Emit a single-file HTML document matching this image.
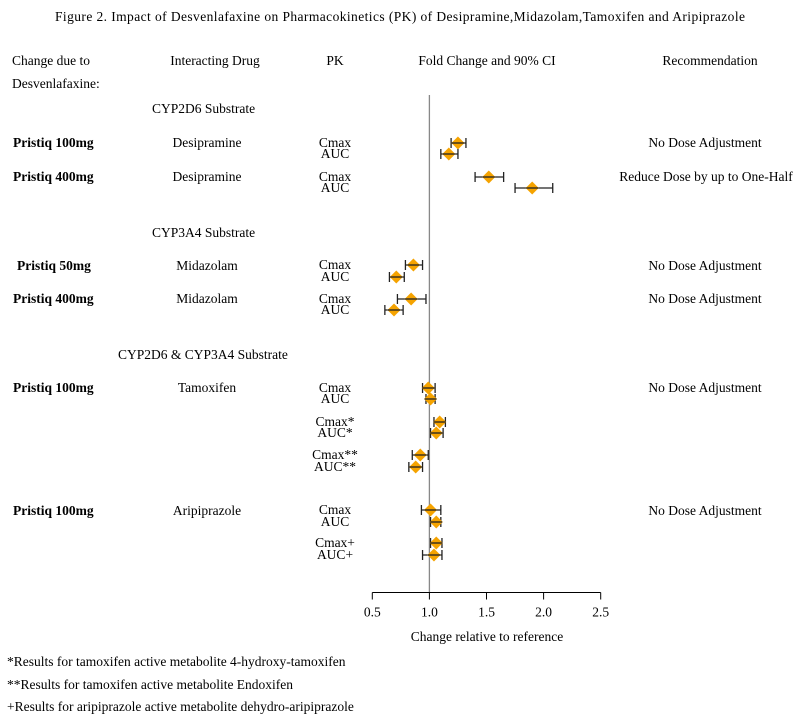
<!DOCTYPE html>
<html><head><meta charset="utf-8"><style>
body{margin:0;background:#fff;}
svg{display:block;font-family:"Liberation Serif",serif;}
text{font-size:13.5px;fill:#000;}
.b{font-weight:bold;}
</style></head><body>
<svg id="chart" width="801" height="716" viewBox="0 0 801 716" xmlns="http://www.w3.org/2000/svg">
<text x="400" y="21" text-anchor="middle" textLength="690" font-size="13">Figure 2. Impact of Desvenlafaxine on Pharmacokinetics (PK) of Desipramine,Midazolam,Tamoxifen and Aripiprazole</text>
<text x="12" y="65">Change due to</text>
<text x="12" y="88">Desvenlafaxine:</text>
<text x="215" y="65" text-anchor="middle">Interacting Drug</text>
<text x="335" y="65" text-anchor="middle">PK</text>
<text x="487" y="65" text-anchor="middle">Fold Change and 90% CI</text>
<text x="710" y="65" text-anchor="middle">Recommendation</text>

<text x="152" y="113">CYP2D6 Substrate</text>
<text x="152" y="237">CYP3A4 Substrate</text>
<text x="118" y="359">CYP2D6 &amp; CYP3A4 Substrate</text>

<text class="b" x="13" y="147">Pristiq 100mg</text>
<text class="b" x="13" y="181">Pristiq 400mg</text>
<text class="b" x="17" y="270">Pristiq 50mg</text>
<text class="b" x="13" y="303">Pristiq 400mg</text>
<text class="b" x="13" y="392">Pristiq 100mg</text>
<text class="b" x="13" y="515">Pristiq 100mg</text>

<text x="207" y="147" text-anchor="middle">Desipramine</text>
<text x="207" y="181" text-anchor="middle">Desipramine</text>
<text x="207" y="270" text-anchor="middle">Midazolam</text>
<text x="207" y="303" text-anchor="middle">Midazolam</text>
<text x="207" y="392" text-anchor="middle">Tamoxifen</text>
<text x="207" y="515" text-anchor="middle">Aripiprazole</text>

<text x="705" y="147" text-anchor="middle">No Dose Adjustment</text>
<text x="706" y="181" text-anchor="middle">Reduce Dose by up to One-Half</text>
<text x="705" y="270" text-anchor="middle">No Dose Adjustment</text>
<text x="705" y="303" text-anchor="middle">No Dose Adjustment</text>
<text x="705" y="392" text-anchor="middle">No Dose Adjustment</text>
<text x="705" y="515" text-anchor="middle">No Dose Adjustment</text>

<g id="plot"></g>

<text x="487" y="641" text-anchor="middle">Change relative to reference</text>
<text x="7" y="666">*Results for tamoxifen active metabolite 4-hydroxy-tamoxifen</text>
<text x="7" y="689">**Results for tamoxifen  active metabolite Endoxifen</text>
<text x="7" y="711">+Results for aripiprazole active metabolite dehydro-aripiprazole</text>
</svg>
<script>
const pkLabels = ["Cmax","AUC","Cmax","AUC","Cmax","AUC","Cmax","AUC","Cmax","AUC","Cmax*","AUC*","Cmax**","AUC**","Cmax","AUC","Cmax+","AUC+"];
const rowY = [143,154,177,188,265,277,299,310,388,399,422,433,455,467,510,522,543,555];
const estimates = [1.25,1.17,1.52,1.90,0.86,0.71,0.84,0.69,0.99,1.01,1.09,1.06,0.92,0.88,1.01,1.06,1.06,1.04];
const lower = [1.19,1.10,1.40,1.75,0.79,0.65,0.72,0.61,0.94,0.97,1.04,1.01,0.85,0.82,0.93,1.01,1.01,0.94];
const upper = [1.32,1.25,1.65,2.08,0.94,0.78,0.97,0.77,1.05,1.05,1.14,1.12,0.99,0.94,1.10,1.10,1.11,1.11];
const ticks = [0.5,1.0,1.5,2.0,2.5];
const tickLabels = ["0.5","1.0","1.5","2.0","2.5"];
const refValue = 1.0;

const NS = "http://www.w3.org/2000/svg";
const g = document.getElementById('plot');
const x = v => 372.3 + (v - 0.5) * 114.2;
const axisY = 592.5;
function mk(tag, attrs){ const e=document.createElementNS(NS,tag); for(const k in attrs) e.setAttribute(k,attrs[k]); g.appendChild(e); return e; }

const ref = mk('line',{x1:x(refValue),x2:x(refValue),y1:95,y2:axisY,stroke:'#888','stroke-width':1.3});



const ax = mk('line',{x1:x(ticks[0]),x2:x(ticks[ticks.length-1]),y1:axisY,y2:axisY,stroke:'#000','stroke-width':1});


ticks.forEach((t,i)=>{
  const tk = mk('line',{x1:x(t),x2:x(t),y1:axisY,y2:axisY+7,stroke:'#000','stroke-width':1});
  
  
  const tl = mk('text',{x:x(t),y:axisY+24,'text-anchor':'middle'});
  tl.textContent = tickLabels[i];
  
  
});

pkLabels.forEach((lab,i)=>{
  const y = rowY[i];
  const t = mk('text',{x:335,y:y+4,'text-anchor':'middle'});
  t.textContent = lab;
  
  
  const ci = mk('line',{x1:x(lower[i]),x2:x(upper[i]),y1:y,y2:y,stroke:'#222','stroke-width':1.3});
  
  
  [lower[i],upper[i]].forEach(v=>{
    const c = mk('line',{x1:x(v),x2:x(v),y1:y-5,y2:y+5,stroke:'#222','stroke-width':1.3});
    
    
  });
  const cx = x(estimates[i]);
  const d = mk('polygon',{points:`${cx-6.5},${y} ${cx},${y-6.5} ${cx+6.5},${y} ${cx},${y+6.5}`,fill:'#f5a300'});
  
  
  const ci2 = mk('line',{x1:cx-6,x2:cx+6,y1:y,y2:y,stroke:'#222','stroke-width':1.3});
  
  
});
</script>
</body></html>
